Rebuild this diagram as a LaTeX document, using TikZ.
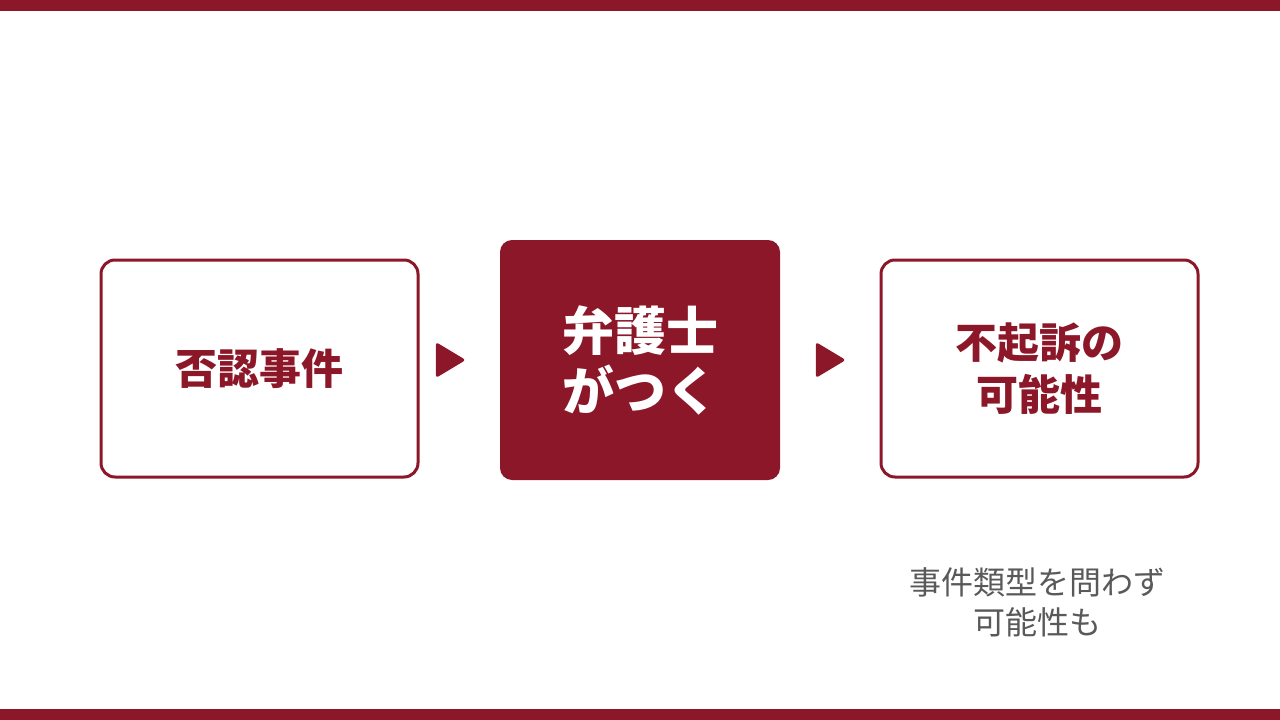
\documentclass[tikz,border=0pt]{standalone}
\usepackage{fontspec}
\setmainfont{Noto Sans CJK JP}
\usetikzlibrary{shapes.geometric,positioning}
\definecolor{wine}{HTML}{8C1729}
\definecolor{note}{HTML}{595959}

\begin{document}
\begin{tikzpicture}[
x=1pt, y=-1pt,
stepbox/.style={draw=wine, line width=3pt, rounded corners=14pt, minimum width=317pt, minimum height=217pt, text=wine, align=center, font=\bfseries\fontsize{42}{52}\selectfont},
keybox/.style={fill=wine, rounded corners=12pt, minimum width=280pt, minimum height=240pt, text=white, align=center, font=\bfseries\fontsize{52}{60}\selectfont},
pointer/.style={isosceles triangle, isosceles triangle stretches, fill=wine, rounded corners=3pt, minimum width=36pt, minimum height=30pt, inner sep=0pt},
]

\useasboundingbox (0,0) rectangle (1280,720);
\fill[wine] (0,0) rectangle (1280,11);
\fill[wine] (0,709) rectangle (1280,720);

\node[stepbox] (denial) at (259.5,368.5) {否認事件};
\node[keybox] (lawyer) at (640,360) {弁護士\\がつく};
\node[stepbox] (result) at (1039.5,368.5) {不起訴の\\可能性};

\node[pointer] (arr1) at (446,360) {};
\node[pointer] (arr2) at (826,360) {};

\node (note) [below=86pt of result, xshift=-2pt, text=note, align=center, font=\fontsize{32}{40}\selectfont] {事件類型を問わず\\可能性も};

\end{tikzpicture}
\end{document}
